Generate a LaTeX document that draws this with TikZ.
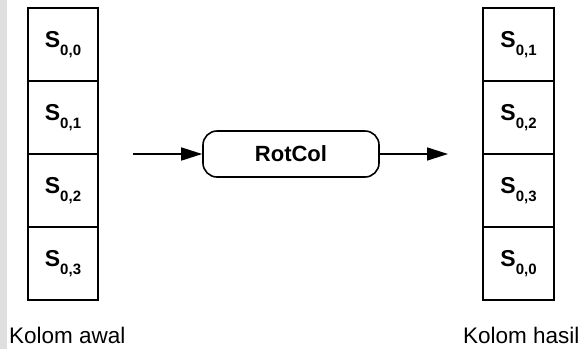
\documentclass[tikz,border=0pt]{standalone}
\usepackage{fontspec}
\setmainfont{Liberation Sans}
\usetikzlibrary{arrows.meta}
\tikzset{
  cell/.style={draw, line width=1.6pt, minimum width=70pt, minimum height=73pt, inner sep=0pt, outer sep=0pt, font=\fontsize{23}{24}\selectfont\bfseries},
  procbox/.style={draw, line width=1.6pt, rounded corners=14pt, minimum width=176pt, minimum height=46pt, inner sep=0pt, font=\fontsize{22}{24}\selectfont\bfseries},
  flow/.style={line width=1.6pt, -{Triangle[length=21pt,width=13pt]}},
  lbl/.style={anchor=base west, inner sep=0pt, font=\fontsize{22.5}{24}\selectfont}
}
\newcommand{\sv}[1]{S\raisebox{-8pt}{\fontsize{15}{16}\selectfont\bfseries #1}}
\begin{document}
\begin{tikzpicture}[x=1pt,y=-1pt]
\useasboundingbox (0,0) rectangle (583,349);
\fill[gray!25] (0,0) rectangle (7,349);
% left column
\node[cell] (l0) at (63,44.5) {\sv{0,0}};
\node[cell] (l1) at (63,117.5) {\sv{0,1}};
\node[cell] (l2) at (63,190.5) {\sv{0,2}};
\node[cell] (l3) at (63,263.5) {\sv{0,3}};
% right column
\node[cell, minimum width=71pt] (r0) at (518.5,44.5) {\sv{0,1}};
\node[cell, minimum width=71pt] (r1) at (518.5,117.5) {\sv{0,2}};
\node[cell, minimum width=71pt] (r2) at (518.5,190.5) {\sv{0,3}};
\node[cell, minimum width=71pt] (r3) at (518.5,263.5) {\sv{0,0}};
% process
\node[procbox] (rot) at (291,154) {RotCol};
\coordinate (in) at (133,154);
\coordinate (out) at (448,154);
\draw[flow] (in) -- (rot.west);
\draw[flow] (rot.east) -- (out);
% labels
\node[lbl] (la) at (9,343) {Kolom awal};
\node[lbl] (lb) at (463,343) {Kolom hasil};
\end{tikzpicture}
\end{document}
